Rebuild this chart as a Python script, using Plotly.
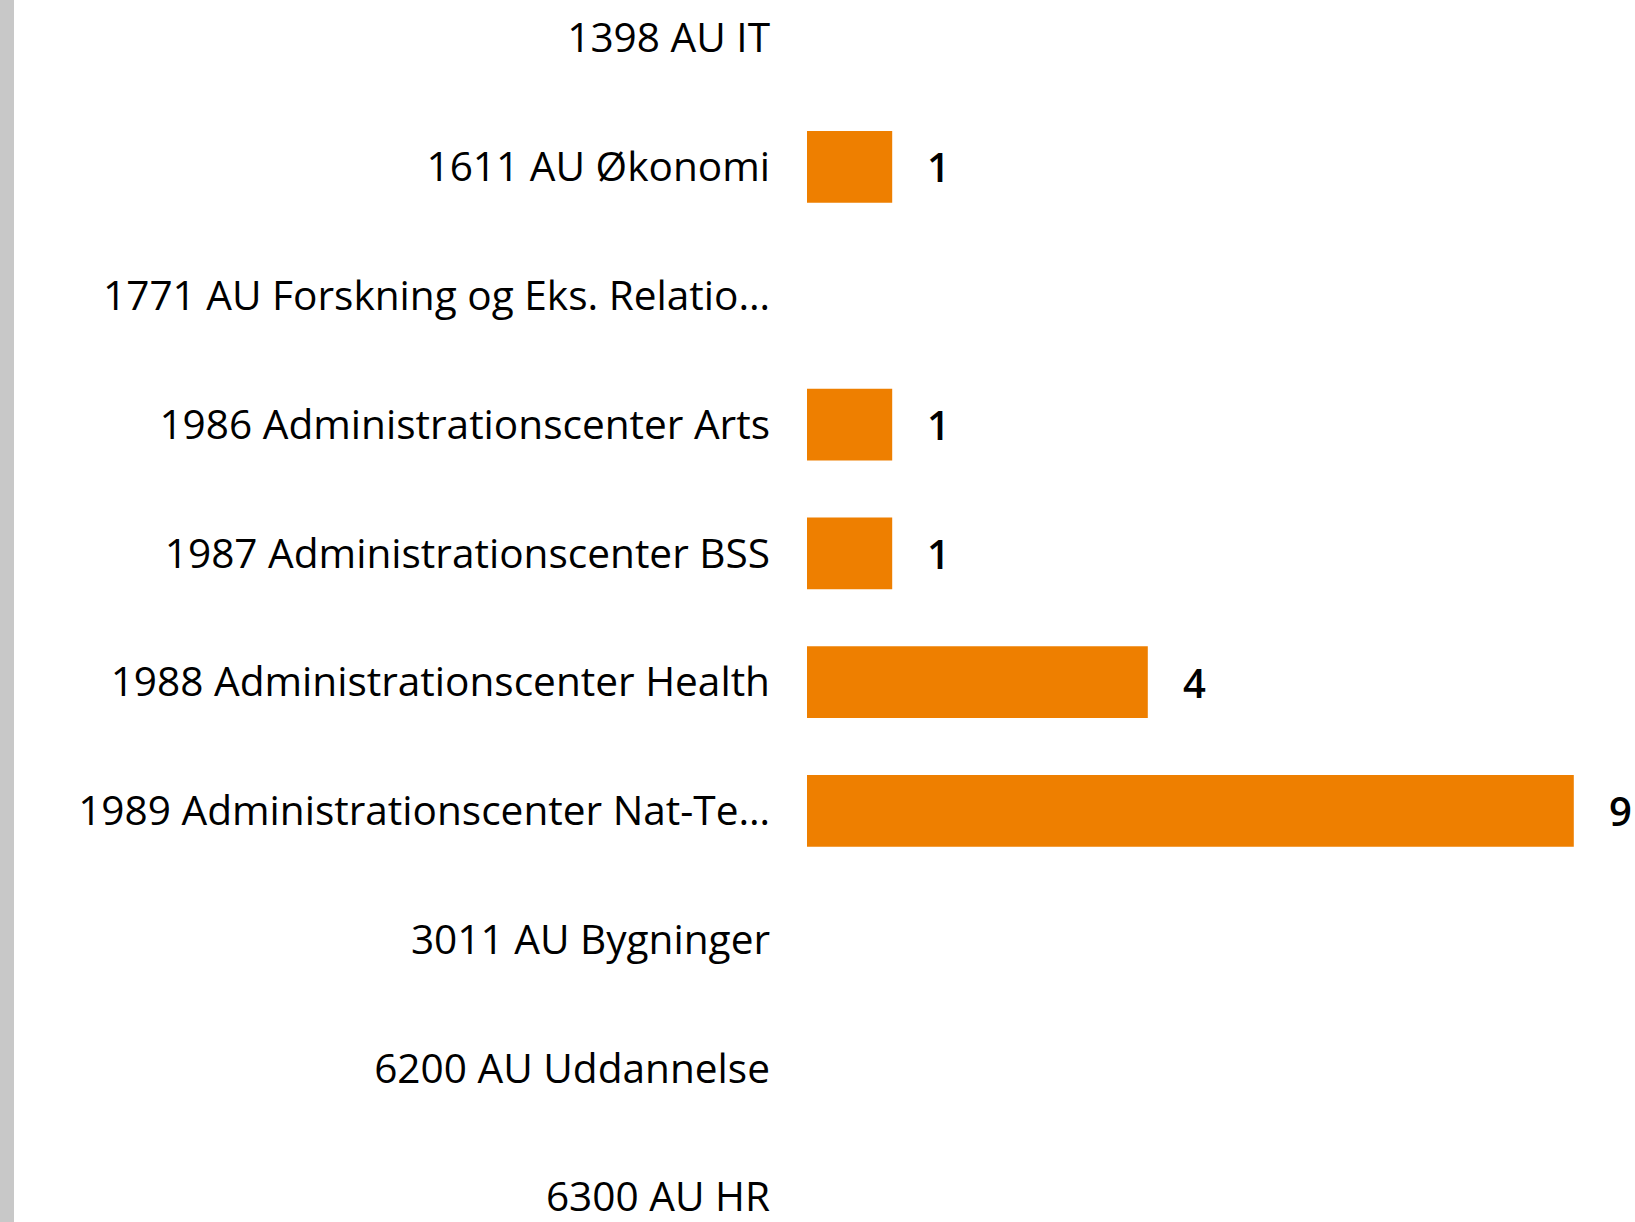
import plotly.graph_objects as go

categories = [
    "1398 AU IT",
    "1611 AU Økonomi",
    "1771 AU Forskning og Eks. Relatio…",
    "1986 Administrationscenter Arts",
    "1987 Administrationscenter BSS",
    "1988 Administrationscenter Health",
    "1989 Administrationscenter Nat-Te…",
    "3011 AU Bygninger",
    "6200 AU Uddannelse",
    "6300 AU HR",
]
values = [None, 1, None, 1, 1, 4, 9, None, None, None]

BAR_COLOR = "#EE7F00"
FONT = "Segoe UI, Open Sans, sans-serif"

W, H = 1635, 1222
L = 807
unit_px = 85.2
xmax = (W - L) / unit_px

fig = go.Figure()
fig.add_trace(go.Bar(
    x=values, y=categories, orientation="h",
    marker=dict(color=BAR_COLOR, line=dict(width=0)),
    width=0.557, hoverinfo="skip",
))

for c, v in zip(categories, values):
    if v is None:
        continue
    fig.add_annotation(x=v, y=c, text=str(v), showarrow=False,
                       xanchor="left", yanchor="middle", xshift=33,
                       font=dict(family=FONT, size=40, color="#000000",
                                 weight=600))

fig.add_shape(type="rect", xref="paper", yref="paper",
              x0=-L / (W - L), x1=(14 - L) / (W - L), y0=0, y1=1,
              fillcolor="#C8C8C8", line=dict(width=0), layer="below")

fig.update_layout(
    width=W, height=H,
    margin=dict(l=L, r=0, t=0, b=0, pad=0),
    paper_bgcolor="white", plot_bgcolor="white",
    showlegend=False,
    font=dict(family=FONT, size=40, color="#000000"),
    xaxis=dict(range=[0, xmax], visible=False, showgrid=False, zeroline=False),
    yaxis=dict(type="category", range=[9.192, -0.296], showgrid=False,
               zeroline=False, showline=False, ticks="",
               ticklabelstandoff=36,
               tickfont=dict(family=FONT, size=40.6, color="#000000")),
)

fig.write_html("out.html",
               config={"displayModeBar": False},
               post_script="document.body.style.margin='0px';document.body.style.overflow='hidden';")
